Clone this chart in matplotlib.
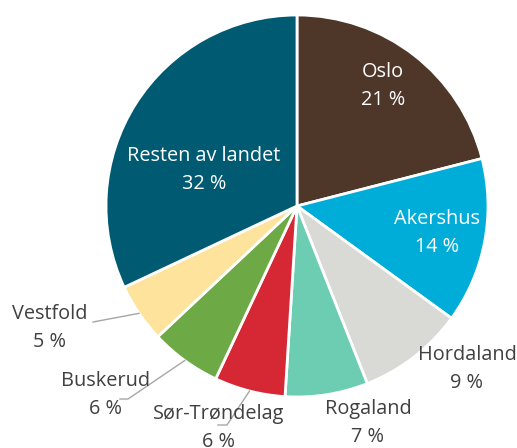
import numpy as np
import matplotlib
matplotlib.use("Agg")
import matplotlib.pyplot as plt

plt.rcParams['font.family'] = ['Open Sans', 'DejaVu Sans']

# data
regions = ['Oslo', 'Akershus', 'Hordaland', 'Rogaland', 'Sør-Trøndelag',
           'Buskerud', 'Vestfold', 'Resten av landet']
shares = [21, 14, 9, 7, 6, 6, 5, 32]
colors = ['#4E3629', '#00ADD8', '#D9D9D5', '#6DCDB2', '#D62834',
          '#6DAA45', '#FDE39C', '#005B72']

# layout, in pixels of the 517x448 picture
W, H, DPI = 517, 448, 100
cx, cy, rad = 297, 206, 191
label_px = [(383, 86), (437, 233), (467, 369), (368, 423), (219, 428),
            (106, 395), (50, 328), (204, 170)]
inside = [True, True, False, False, False, False, False, True]
leader = [False, False, False, False, True, True, True, False]
# end of leader line next to label (pixels)
leader_end = {4: [(227, 425), (218, 425)],
              5: [(128, 399), (120, 399)],
              6: [(93, 322)]}


def to_data(px, py):
    return (px - cx) / rad, (cy - py) / rad


fig = plt.figure(figsize=(W / DPI, H / DPI), dpi=DPI)
ax = fig.add_axes([0, 0, 1, 1])

wedges, _ = ax.pie(shares, colors=colors, startangle=90, counterclock=False,
                   radius=1, wedgeprops=dict(edgecolor='white', linewidth=2))

# pie() resets the limits, so set them afterwards
ax.set_xlim(-cx / rad, (W - cx) / rad)
ax.set_ylim(-(H - cy) / rad, cy / rad)
ax.set_aspect('equal')
ax.axis('off')

for i, w in enumerate(wedges):
    x, y = to_data(*label_px[i])
    col = 'white' if inside[i] else '#404040'
    ax.text(x, y, f"{regions[i]}\n{shares[i]} %", ha='center', va='center',
            color=col, fontsize=14.3, linespacing=1.5)
    if leader[i]:
        ang = np.deg2rad((w.theta1 + w.theta2) / 2)
        xs = [np.cos(ang) * 1.0]
        ys = [np.sin(ang) * 1.0]
        for p in leader_end[i]:
            px, py = to_data(*p)
            xs.append(px)
            ys.append(py)
        ax.plot(xs, ys, color='#A6A6A6', linewidth=1)

fig.savefig('out.png', dpi=DPI)
